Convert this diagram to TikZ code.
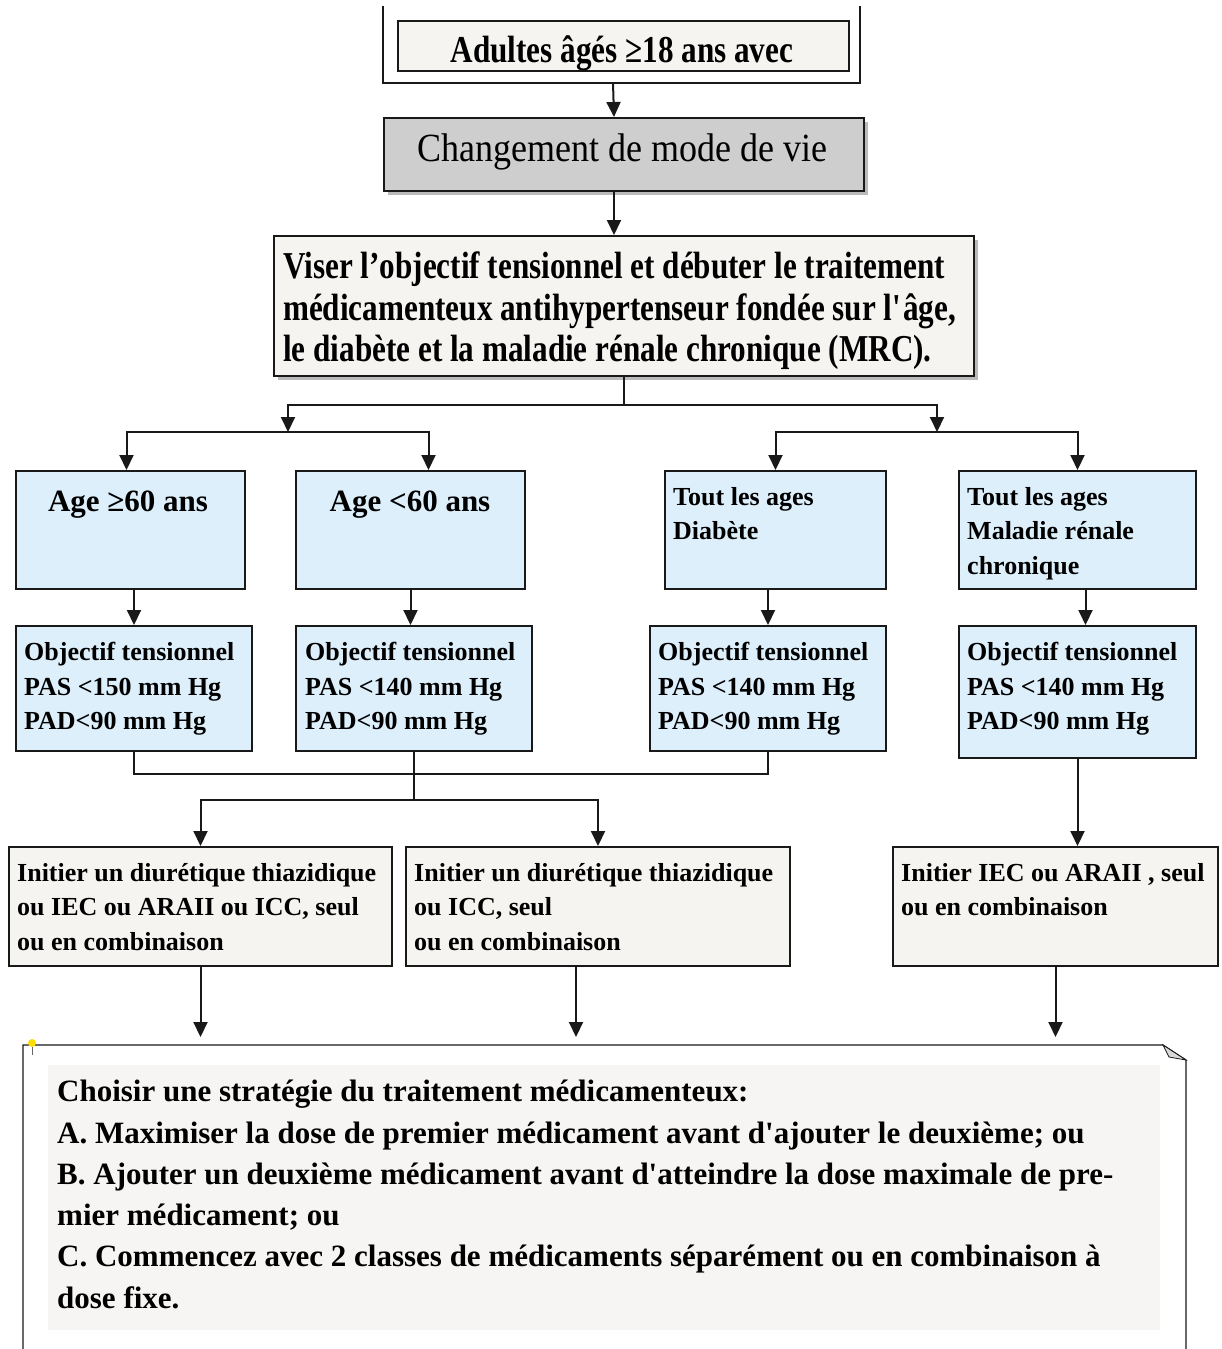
\documentclass[tikz,border=0pt]{standalone}
\usepackage{fontspec}
\setmainfont{Liberation Serif}
\newfontfamily\condfont{Liberation Serif}[FakeStretch=0.82]
\newfontfamily\medfont{Liberation Serif}[FakeStretch=0.9]
\usetikzlibrary{arrows.meta,positioning,shadows}
\definecolor{boxblue}{RGB}{221,239,251}
\definecolor{boxgrey}{RGB}{206,206,206}
\definecolor{boxpaper}{RGB}{246,244,241}
\definecolor{notebg}{RGB}{246,245,243}
\definecolor{linec}{RGB}{25,25,25}
\newcommand{\sq}{\textquotesingle}

\begin{document}
\begin{tikzpicture}[x=1pt,y=-1pt,
  box/.style={draw=linec,line width=2pt,anchor=north west,inner sep=0pt},
  bluebox/.style={box,fill=boxblue},
  paperbox/.style={box,fill=boxpaper},
  shade/.style={drop shadow={shadow xshift=4pt,shadow yshift=-4pt,fill=black!45,opacity=.6}},
  arr/.style={line width=2pt,draw=linec,-{Triangle[length=15pt,width=14pt]}},
  link/.style={line width=2pt,draw=linec},
  txt/.style={inner sep=0pt,align=left,anchor=north west,font=\fontsize{26}{34.5}\selectfont\bfseries},
  title/.style={inner sep=0pt,anchor=base,font=\fontsize{31}{34}\selectfont\bfseries}]
\useasboundingbox (0,0) rectangle (1221,1349);
\clip (0,0) rectangle (1221,1349);

% top
\draw[linec,line width=1.2pt] (383,6) -- (383,83) -- (860,83) -- (860,6);
\node[paperbox,minimum width=451pt,minimum height=50pt] (start) at (397,20) {};
\node[anchor=base,inner sep=0pt,font=\fontsize{38}{40}\condfont\bfseries] (starttxt) at (622,62) {Adultes âgés ≥18 ans avec};
\coordinate (framebase) at (613,83);

\node[box,fill=boxgrey,shade,minimum width=480pt,minimum height=73pt] (mode) at (383,117) {};
\node[anchor=base,inner sep=0pt,font=\fontsize{40}{44}\medfont] (modetxt) at (622,161) {Changement de mode de vie};

\node[paperbox,shade,minimum width=700pt,minimum height=140pt] (viser) at (273,235) {};
\node[txt,font=\fontsize{38}{41.5}\condfont\bfseries] (visertxt) at (283,252) {Viser l’objectif tensionnel et débuter le traitement\\médicamenteux antihypertenseur fondée sur l\sq âge,\\le diabète et la maladie rénale chronique (MRC).};

% groups
\node[bluebox,minimum width=229pt,minimum height=118pt] (age1) at (15,470) {};
\node[title] (age1txt) at (128,511) {Age ≥60 ans};
\node[bluebox,minimum width=229pt,minimum height=118pt] (age2) at (295,470) {};
\node[title] (age2txt) at (410,511) {Age <60 ans};
\node[bluebox,minimum width=221pt,minimum height=118pt] (diab) at (664,470) {};
\node[txt] (diabtxt) at (673,487) {Tout les ages\\Diabète};
\node[bluebox,minimum width=237pt,minimum height=118pt] (mrc) at (958,470) {};
\node[txt] (mrctxt) at (967,487) {Tout les ages\\Maladie rénale\\chronique};

% objectifs
\node[bluebox,minimum width=236pt,minimum height=125pt] (obj1) at (15,625) {};
\node[txt] (obj1txt) at (24,642) {Objectif tensionnel\\PAS <150 mm Hg\\PAD<90 mm Hg};
\node[bluebox,minimum width=236pt,minimum height=125pt] (obj2) at (295,625) {};
\node[txt] (obj2txt) at (305,642) {Objectif tensionnel\\PAS <140 mm Hg\\PAD<90 mm Hg};
\node[bluebox,minimum width=236pt,minimum height=125pt] (obj3) at (649,625) {};
\node[txt] (obj3txt) at (658,642) {Objectif tensionnel\\PAS <140 mm Hg\\PAD<90 mm Hg};
\node[bluebox,minimum width=237pt,minimum height=132pt] (obj4) at (958,625) {};
\node[txt] (obj4txt) at (967,642) {Objectif tensionnel\\PAS <140 mm Hg\\PAD<90 mm Hg};

% traitements
\node[paperbox,minimum width=383pt,minimum height=119pt] (init1) at (8,846) {};
\node[txt] (init1txt) at (17,863) {Initier un diurétique thiazidique\\ou IEC ou ARAII ou ICC, seul\\ou en combinaison};
\node[paperbox,minimum width=384pt,minimum height=119pt] (init2) at (405,846) {};
\node[txt] (init2txt) at (414,863) {Initier un diurétique thiazidique\\ou ICC, seul\\ou en combinaison};
\node[paperbox,minimum width=325pt,minimum height=119pt] (init3) at (892,846) {};
\node[txt] (init3txt) at (901,863) {Initier IEC ou ARAII , seul\\ou en combinaison};

% note
\node[fill=notebg,anchor=north west,inner sep=0pt,minimum width=1112pt,minimum height=265pt] (note) at (48,1065) {};
\draw[linec,line width=1.2pt] (23,1360) -- (23,1045) -- (1163,1045) -- (1186,1060) -- (1186,1360);
\filldraw[fill=black!15,draw=linec,line width=0.8pt] (1163,1045) -- (1169,1057) -- (1186,1060) -- cycle;
\fill[yellow!80!orange] (32,1043) circle (4pt);
\draw[black!60,line width=1pt] (32,1047) -- (32,1055);
\coordinate (frametop) at (0,1037);
\node[txt,font=\fontsize{31}{41.3}\selectfont\bfseries] (notetxt) at (57,1080) {Choisir une stratégie du traitement médicamenteux:\\A. Maximiser la dose de premier médicament avant d\sq ajouter le deuxième; ou\\B. Ajouter un deuxième médicament avant d\sq atteindre la dose maximale de pre-\\mier médicament; ou\\C. Commencez avec 2 classes de médicaments séparément ou en combinaison à\\dose fixe.};

% connectors
\draw[arr] (framebase) -- ([xshift=-10pt]mode.north);
\draw[arr] ([xshift=-10pt]mode.south) -- ([xshift=-10pt]mode.south |- viser.north);
\draw[link] (viser.south) -- ++(0,28) coordinate (split);
\coordinate (leftfork) at (288,432);
\coordinate (rightfork) at (937,432);
\draw[arr] (split) -| (leftfork);
\draw[arr] (split) -| (rightfork);
\draw[arr] (leftfork) -| ([xshift=-4pt]age1.north);
\draw[arr] (leftfork) -| ([xshift=18pt]age2.north);
\draw[arr] (rightfork) -| (diab.north);
\draw[arr] (rightfork) -| (mrc.north);
\draw[arr] (obj1.north |- age1.south) -- (obj1.north);
\draw[arr] (age2.south) -- (age2.south |- obj2.north);
\draw[arr] (obj3.north |- diab.south) -- (obj3.north);
\draw[arr] ([xshift=8pt]mrc.south) -- ([xshift=8pt]mrc.south |- obj4.north);
\draw[link] (obj1.south) -- ++(0,22) -| (obj3.south);
\draw[link] (obj2.south) -- ++(0,48) coordinate (merge);
\draw[arr] (merge) -| (init1.north);
\draw[arr] (merge) -| (init2.north);
\draw[arr] (obj4.south) -- (obj4.south |- init3.north);
\draw[arr] (init1.south) -- (init1.south |- frametop);
\draw[arr] ([xshift=-22pt]init2.south) -- ([xshift=-22pt]init2.south |- frametop);
\draw[arr] (init3.south) -- (init3.south |- frametop);
\end{tikzpicture}
\end{document}
